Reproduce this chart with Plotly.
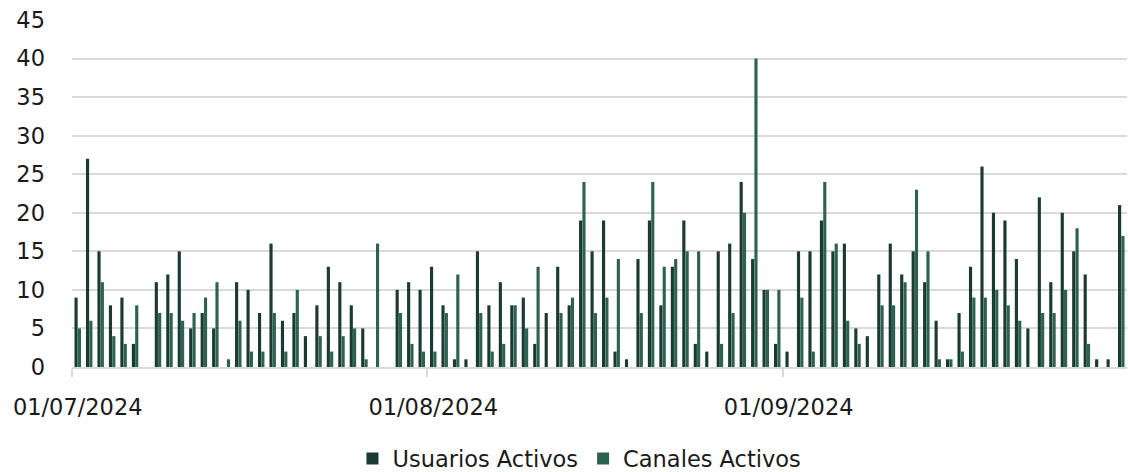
import datetime as dt
import plotly.graph_objects as go

start = dt.date(2024, 7, 1)
dates = [start + dt.timedelta(days=i) for i in range(92)]

# day index -> (usuarios, canales); missing days have no bars
usuarios = [9, 27, 15, 8, 9, 3, None, 11, 12, 15, 5, 7, 5, 0, 11, 10, 7, 16, 6, 7,
            4, 8, 13, 11, 8, 5, 0, None, 10, 11, 10, 13, 8, 1, 1, 15, 8, 11, 8, 9,
            3, 7, 13, 8, 19, 15, 19, 2, 1, 14, 19, 8, 13, 19, 3, 2, 15, 16, 24, 14,
            10, 3, 2, 15, 15, 19, 15, 16, 5, 4, 12, 16, 12, 15, 11, 6, 1, 7, 13, 26,
            20, 19, 14, 5, 22, 11, 20, 15, 12, 1, 1, 21]
canales = [5, 6, 11, 4, 3, 8, None, 7, 7, 6, 7, 9, 11, 1, 6, 2, 2, 7, 2, 10,
           0, 4, 2, 4, 5, 1, 16, None, 7, 3, 2, 2, 7, 12, 0, 7, 2, 3, 8, 5,
           13, 0, 7, 9, 24, 7, 9, 14, 0, 7, 24, 13, 14, 15, 15, 0, 3, 7, 20, 40,
           10, 10, 0, 9, 2, 24, 16, 6, 3, 0, 8, 8, 11, 23, 15, 1, 1, 2, 9, 9,
           10, 8, 6, 0, 7, 7, 10, 18, 3, 0, 0, 17]

x_mid = [dt.datetime(d.year, d.month, d.day, 12) for d in dates]
tick_dates = [dt.date(2024, 7, 1), dt.date(2024, 8, 1), dt.date(2024, 9, 1)]
tick_labels = [d.strftime("%d/%m/%Y") for d in tick_dates]

DARK = "#1B3B32"
LIGHT = "#2C6350"
FONT = "'DejaVu Sans', sans-serif"
FS = 22.5

fig = go.Figure()
fig.add_bar(x=x_mid, y=usuarios, name="Usuarios Activos", marker_color=DARK,
            marker_line_width=0)
fig.add_bar(x=x_mid, y=canales, name="Canales Activos", marker_color=LIGHT,
            marker_line_width=0)

fig.update_layout(
    width=1128, height=472,
    margin=dict(l=72, r=1, t=20, b=105, autoexpand=False),
    barmode="group", bargap=0.42, bargroupgap=0.05,
    plot_bgcolor="white", paper_bgcolor="white",
    font=dict(family=FONT, size=FS, color="#1a1a1a"),
    showlegend=True,
    legend=dict(orientation="h", x=0.481, xanchor="center", y=-0.265, yanchor="middle",
                font=dict(size=FS), itemwidth=30, traceorder="normal"),
)
fig.update_xaxes(
    type="date", automargin=False,
    range=[dt.datetime(2024, 7, 1), dt.datetime(2024, 10, 1)],
    tickmode="array",
    tickvals=[dt.datetime(d.year, d.month, d.day, 12) for d in tick_dates],
    ticktext=tick_labels,
    ticks="", showgrid=False,
    showline=True, linecolor="#d9d9d9", linewidth=1.5,
    tickfont=dict(size=FS),
    ticklabelstandoff=19,
    minor=dict(tickmode="array",
               tickvals=[dt.datetime(d.year, d.month, d.day) for d in tick_dates],
               ticks="outside", ticklen=8, tickcolor="#d9d9d9", tickwidth=1.5,
               showgrid=False),
)
fig.update_yaxes(
    range=[0, 45], dtick=5, tick0=0, automargin=False,
    showgrid=True, gridcolor="#d9d9d9", gridwidth=1.5,
    zeroline=False, showline=False,
    tickfont=dict(size=FS),
    ticklabelstandoff=26,
)

fig.write_html(
    "out.html",
    config={"displayModeBar": False},
    post_script="document.body.style.margin='0';document.body.style.overflow='hidden';",
)
